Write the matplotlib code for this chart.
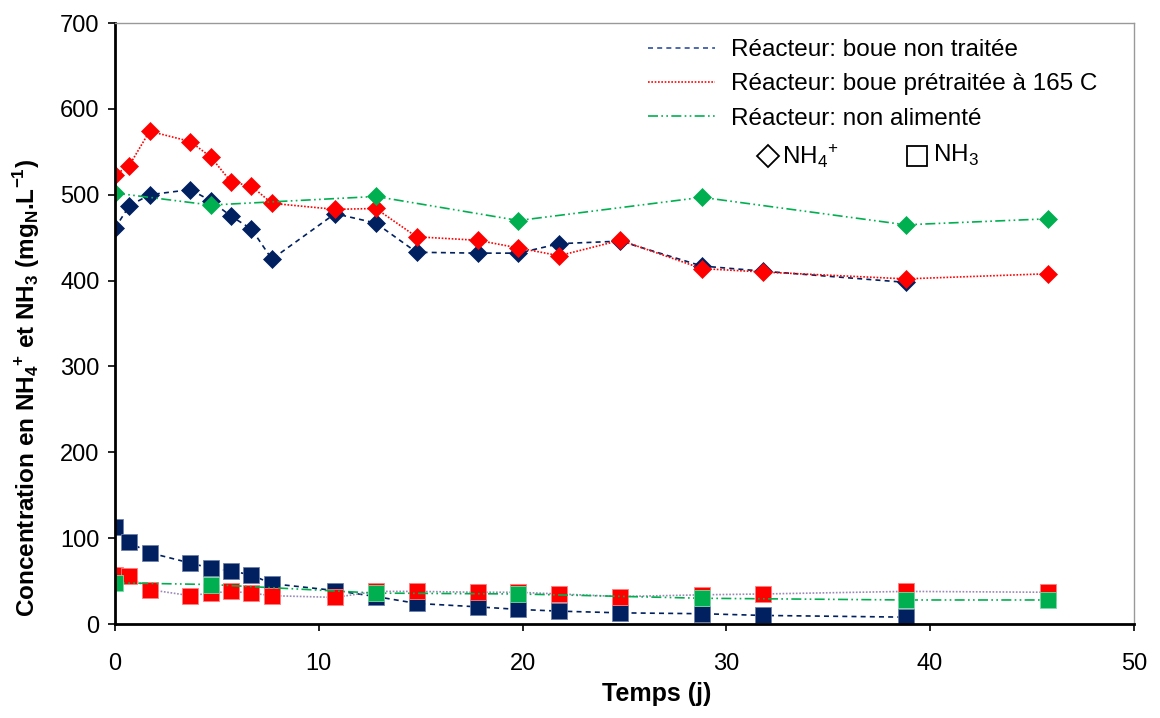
import numpy as np
import matplotlib.pyplot as plt
from matplotlib.lines import Line2D

plt.rcParams['font.family'] = ['Liberation Sans', 'DejaVu Sans']

# temps (jours)
t_all = [0, 0.7, 1.7, 3.7, 4.7, 5.7, 6.7, 7.7, 10.8, 12.8, 14.8, 17.8, 19.8,
         21.8, 24.8, 28.8, 31.8, 38.8, 45.8]
t_nt = t_all[:-1]
t_na = [0, 4.7, 12.8, 19.8, 28.8, 38.8, 45.8]

# NH4+ (mgN/L)
nh4_nt = [461, 487, 500, 506, 493, 475, 460, 425, 478, 467, 433, 432, 432,
          443, 446, 417, 411, 398]
nh4_pt = [523, 534, 574, 562, 544, 515, 510, 490, 483, 484, 451, 447, 438,
          429, 447, 414, 410, 402, 408]
nh4_na = [502, 488, 498, 470, 497, 465, 472]

# NH3 (mgN/L)
nh3_nt = [113, 95, 83, 71, 65, 62, 57, 47, 39, 32, 24, 20, 17, 15, 13, 12,
          10, 8]
nh3_pt = [57, 56, 40, 33, 36, 38, 36, 33, 31, 38, 38, 37, 37, 35, 32, 34,
          35, 38, 37]
nh3_na = [48, 46, 36, 35, 30, 28, 28]

navy = '#002060'
red = '#ff0000'
green = '#00b050'

fig = plt.figure(figsize=(11.6, 7.18), dpi=100)
ax = fig.add_axes([0.0991, 0.1309, 0.8784, 0.837])

dash = (0, (3, 2.5))
dot = (0, (1, 1))
dashdot = (0, (6, 2, 1, 2, 1, 2))

# NH3 first (behind)
ax.plot(t_nt, nh3_nt, color=navy, ls=dash, lw=1.2, marker='s', ms=11, mfc=navy, mec='#6d7fa8', mew=0.6)
ax.plot(t_all, nh3_pt, color='#9a88b8', ls=dot, lw=1.2, marker='s', ms=11, mfc=red, mec='#ff8080', mew=0.6)
ax.plot(t_na, nh3_na, color=green, ls=dashdot, lw=1.2, marker='s', ms=11, mfc=green, mec='#80d8a8', mew=0.6)

# NH4+
ax.plot(t_nt, nh4_nt, color=navy, ls=dash, lw=1.2, marker='D', ms=9.5, mfc=navy, mec=navy, mew=0.5)
ax.plot(t_all, nh4_pt, color=red, ls=dot, lw=1.2, marker='D', ms=9.5, mfc=red, mec=red, mew=0.5)
ax.plot(t_na, nh4_na, color=green, ls=dashdot, lw=1.2, marker='D', ms=9.5, mfc=green, mec=green, mew=0.5)

ax.set_xlim(0, 50)
ax.set_ylim(0, 700)
ax.set_xticks(np.arange(0, 51, 10))
ax.set_yticks(np.arange(0, 701, 100))
ax.tick_params(labelsize=17, direction='out', length=5, width=1.2)
ax.tick_params(axis='y', pad=6)
ax.tick_params(axis='x', pad=16)

for s in ['left', 'bottom']:
    ax.spines[s].set_linewidth(2)
    ax.spines[s].set_color('black')
for s in ['top', 'right']:
    ax.spines[s].set_linewidth(1)
    ax.spines[s].set_color('#999999')

ax.set_xlabel('Temps (j)', fontsize=18, fontweight='bold')
ax.xaxis.set_label_coords(0.532, -0.097)
ax.set_ylabel(r'Concentration en NH$_\mathregular{4}$$^\mathregular{+}$ et NH$_\mathregular{3}$ (mg$_\mathregular{N}$.L$^\mathregular{-1}$)',
              fontsize=17.5, fontweight='bold')
ax.yaxis.set_label_coords(-0.0716, 0.393)

handles = [
    Line2D([], [], color='#3050a0', ls=dash, lw=1.2),
    Line2D([], [], color=red, ls=dot, lw=1.2),
    Line2D([], [], color=green, ls=dashdot, lw=1.2),
]
labels = ['Réacteur: boue non traitée', 'Réacteur: boue prétraitée à 165 C',
          'Réacteur: non alimenté']
leg = ax.legend(handles, labels, loc='upper left', bbox_to_anchor=(0.523, 0.973),
                frameon=False, fontsize=17.5, handlelength=2.75, handletextpad=0.66,
                labelspacing=0.5, borderpad=0, borderaxespad=0)

# marker key
ax.plot([0.641], [0.779], transform=ax.transAxes, marker='D', ms=11, mfc='none', mec='black', mew=1.3, clip_on=False)
ax.text(0.655, 0.779, r'NH$_\mathregular{4}$$^\mathregular{+}$', transform=ax.transAxes, fontsize=17.5, va='center')
ax.plot([0.787], [0.779], transform=ax.transAxes, marker='s', ms=14, mfc='none', mec='black', mew=1.3, clip_on=False)
ax.text(0.803, 0.779, r'NH$_\mathregular{3}$', transform=ax.transAxes, fontsize=17.5, va='center')

fig.savefig('out.png', dpi=100)
